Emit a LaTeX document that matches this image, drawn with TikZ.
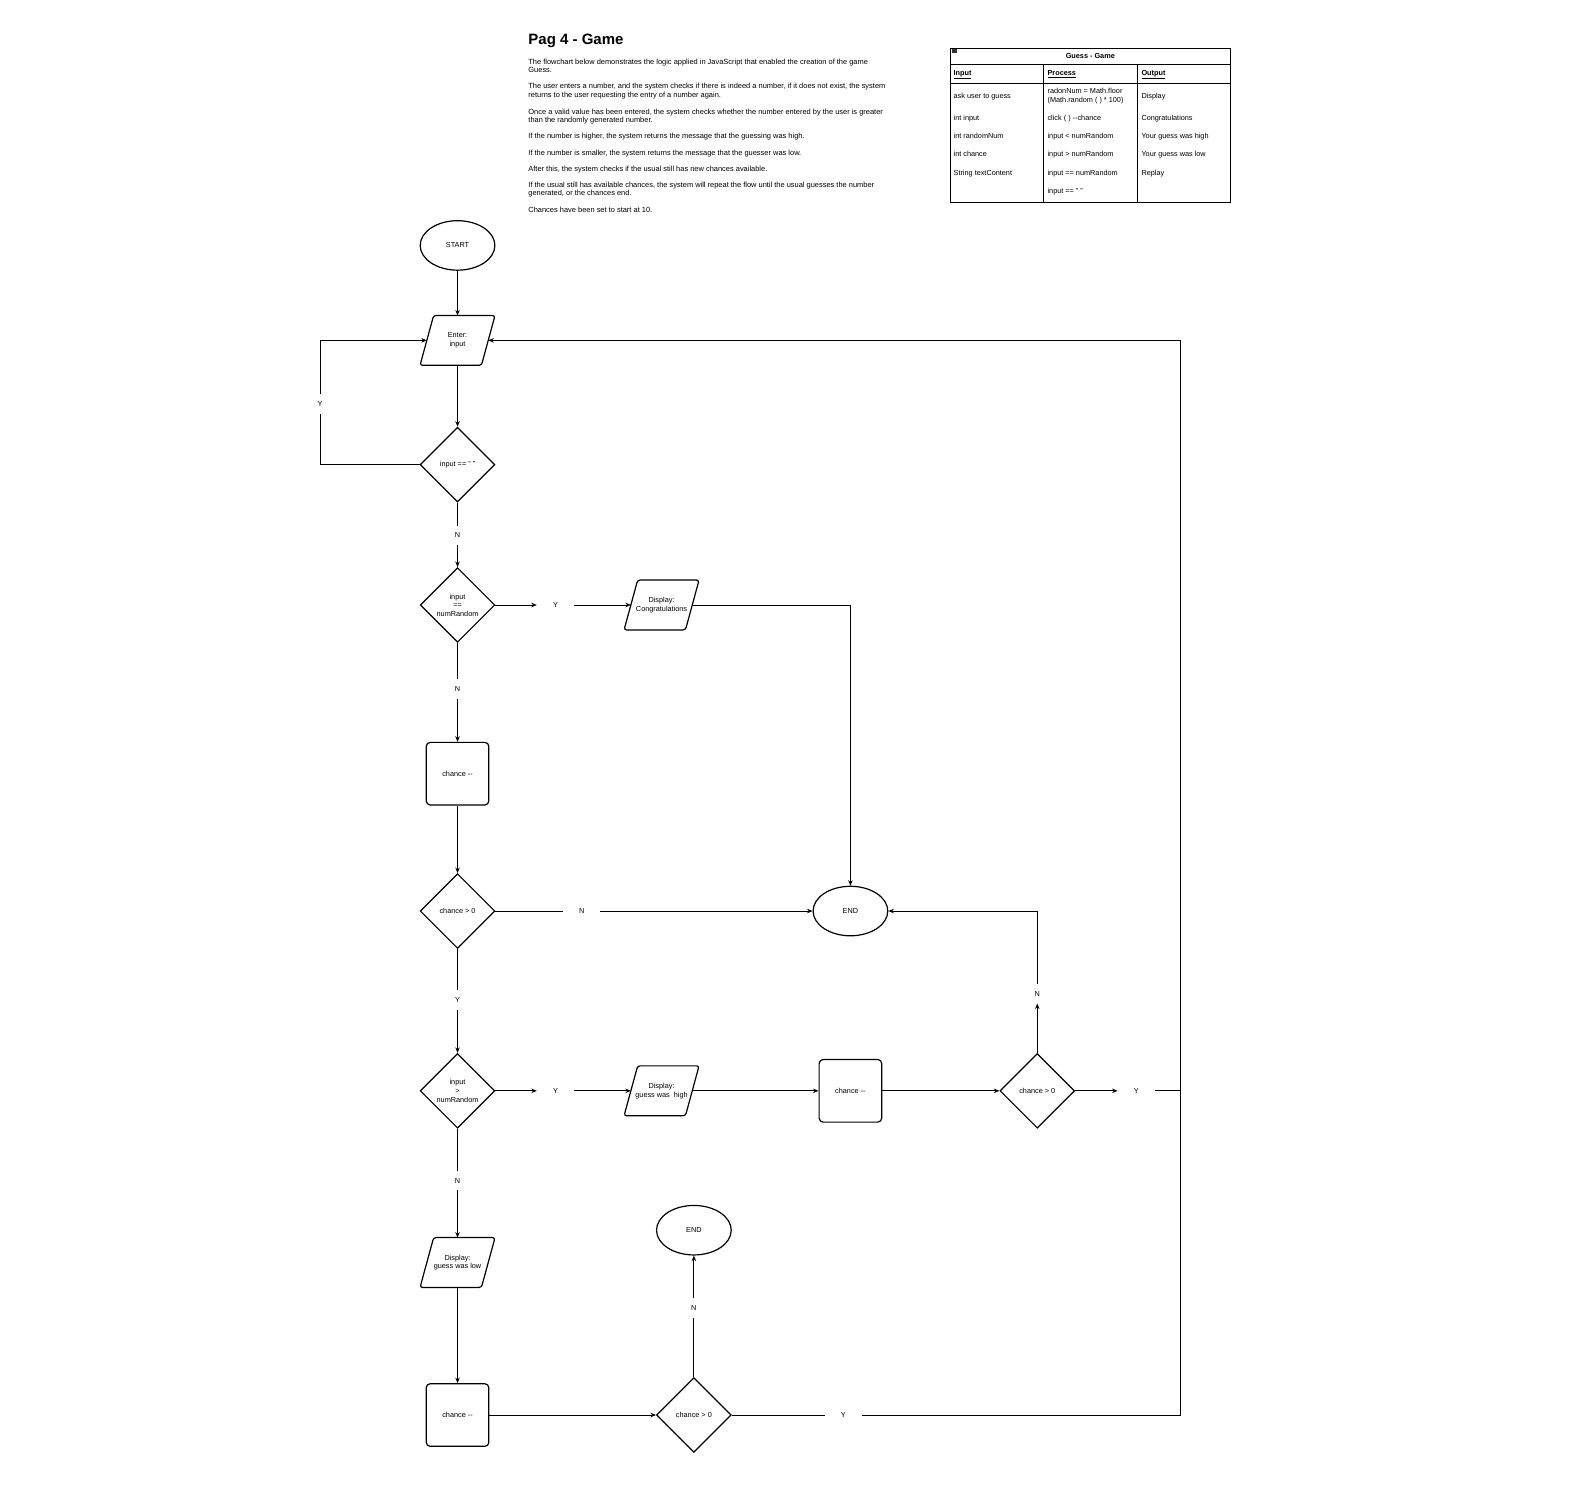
\documentclass[tikz,border=0pt]{standalone}
\usepackage{fontspec}
\setmainfont{Liberation Sans}
\usetikzlibrary{shapes.geometric,arrows.meta}
\newcommand\fnfont{\fontsize{7.3}{8.6}\selectfont}
\newcommand\ptfont{\fontsize{7.45}{8.4}\selectfont}
\newcommand\tbfont{\fontsize{7.3}{8.4}\selectfont}
\tikzset{
 shp/.style={draw, line width=1.2pt, font=\fnfont, align=center, inner sep=0pt},
 dia/.style={shp, diamond, minimum width=74.7pt, minimum height=74.7pt},
 ell/.style={shp, ellipse, minimum width=74.7pt, minimum height=49.5pt},
 rbox/.style={shp, rectangle, rounded corners=4pt, minimum width=62.6pt, minimum height=62.6pt},
 para/.style={font=\fnfont, align=center, inner sep=0pt, minimum width=61pt, minimum height=49.5pt},
 lbl/.style={font=\fnfont, inner sep=0pt, minimum width=37pt, minimum height=19pt},
 conn/.style={line width=0.8pt},
 arr/.style={conn, -{Stealth[length=5.5pt,width=4.5pt]}},
 txt/.style={font=\ptfont, inner sep=0pt, anchor=west, text height=5.4pt, text depth=1.5pt},
 ttxt/.style={txt, font=\tbfont},
 hdr/.style={txt, font=\tbfont\bfseries},
}
\begin{document}
\begin{tikzpicture}[x=1.01pt,y=-1.01pt]
\useasboundingbox (0,0) rectangle (1568.3,1477.2);
% title and description
\node[anchor=base west, inner sep=0pt, font=\fontsize{15}{18}\selectfont\bfseries] (title) at (523,44.5) {Pag 4 - Game};
\node[txt] (p1) at (523,62) {The flowchart below demonstrates the logic applied in JavaScript that enabled the creation of the game};
\node[txt] (p1b) at (523,70) {Guess.};
\node[txt] (p2) at (523,86) {The user enters a number, and the system checks if there is indeed a number, if it does not exist, the system};
\node[txt] (p2b) at (523,95) {returns to the user requesting the entry of a number again.};
\node[txt] (p3) at (523,111) {Once a valid value has been entered, the system checks whether the number entered by the user is greater};
\node[txt] (p3b) at (523,119) {than the randomly generated number.};
\node[txt] (p4) at (523,135) {If the number is higher, the system returns the message that the guessing was high.};
\node[txt] (p5) at (523,152) {If the number is smaller, the system returns the message that the guesser was low.};
\node[txt] (p6) at (523,168) {After this, the system checks if the usual still has new chances available.};
\node[txt] (p7) at (523,184) {If the usual still has available chances, the system will repeat the flow until the usual guesses the number};
\node[txt] (p7b) at (523,192) {generated, or the chances end.};
\node[txt] (p8) at (523,208) {Chances have been set to start at 10.};
% table
\draw[line width=0.8pt] (941,48) rectangle (1218,200);
\draw[line width=0.8pt] (941,64) -- (1218,64);
\draw[line width=0.8pt] (941,83) -- (1218,83);
\draw[line width=0.8pt] (1033,64) -- (1033,200);
\draw[line width=0.8pt] (1126,64) -- (1126,200);
\fill[black!80] (942.5,49) rectangle (947.5,52);
\node[font=\tbfont\bfseries, inner sep=0pt] (tt) at (1079.5,55) {Guess - Game};
\node[hdr] (hin) at (944,73) {\underline{Input}};
\node[hdr] (hpr) at (1037,73) {\underline{Process}};
\node[hdr] (hout) at (1130,73) {\underline{Output}};
\node[ttxt] (i1) at (944,96) {ask user to guess};
\node[ttxt] (i2) at (944,117) {int input};
\node[ttxt] (i3) at (944,135) {int randomNum};
\node[ttxt] (i4) at (944,153.5) {int chance};
\node[ttxt] (i5) at (944,172) {String textContent};
\node[ttxt] (r1a) at (1037,91) {radonNum = Math.floor};
\node[ttxt] (r1b) at (1037,100) {(Math.random ( ) * 100)};
\node[ttxt] (r2) at (1037,117) {click ( ) -{}-chance};
\node[ttxt] (r3) at (1037,135) {input < numRandom};
\node[ttxt] (r4) at (1037,153.5) {input > numRandom};
\node[ttxt] (r5) at (1037,172) {input == numRandom};
\node[ttxt] (r6) at (1037,190) {input == " "};
\node[ttxt] (o1) at (1130,96) {Display};
\node[ttxt] (o2) at (1130,117) {Congratulations};
\node[ttxt] (o3) at (1130,135) {Your guess was high};
\node[ttxt] (o4) at (1130,153.5) {Your guess was low};
\node[ttxt] (o5) at (1130,172) {Replay};
% flowchart nodes
\node[ell] (start) at (453,243) {START};
\node[para] (enter) at (453,337) {Enter:\\input};
\node[dia] (d1) at (453,460) {input == " "};
\node[lbl] (n1) at (453,530) {N};
\node[lbl] (ylp) at (317,400) {Y};
\node[dia] (d2) at (453,599) {input\\==\\numRandom};
\node[lbl] (y2) at (550,599) {Y};
\node[para] (congr) at (655,599) {Display:\\Congratulations};
\node[lbl] (n2) at (453,682) {N};
\node[rbox] (c1) at (453,766) {chance -{}-};
\node[dia] (d3) at (453,902) {chance > 0};
\node[lbl] (n3) at (576,902) {N};
\node[ell] (end1) at (842,902) {END};
\node[lbl] (y3) at (453,990) {Y};
\node[dia] (d4) at (453,1080) {input\\>\\numRandom};
\node[lbl] (y4) at (550,1080) {Y};
\node[para] (high) at (655,1080) {Display:\\guess was\ \ high};
\node[rbox] (c2) at (842,1080) {chance -{}-};
\node[dia] (d5) at (1027,1080) {chance > 0};
\node[lbl] (n5) at (1027,984) {N};
\node[lbl] (y5) at (1125,1080) {Y};
\node[lbl] (n4) at (453,1169) {N};
\node[para] (low) at (453,1250) {Display:\\guess was low};
\node[rbox] (c3) at (453,1401) {chance -{}-};
\node[dia] (d6) at (687,1401) {chance > 0};
\node[lbl] (n6) at (687,1295) {N};
\node[ell] (end2) at (687,1218) {END};
\node[lbl] (y6) at (835,1401) {Y};
\coordinate (rj) at (1169,1080);
\coordinate (rb) at (1169,1401);
\coordinate (rt) at (1169,337);
% parallelogram outlines
\foreach \n in {enter,congr,high,low}
  \draw[line width=1.2pt, rounded corners=2.5pt]
    ([xshift=-6.8pt]\n.south west) -- ([xshift=6.8pt]\n.north west) --
    ([xshift=6.8pt]\n.north east) -- ([xshift=-6.8pt]\n.south east) -- cycle;
% connectors
\draw[arr] (start) -- (enter);
\draw[arr] (enter) -- (d1);
\draw[conn] (d1.west) -| (ylp);
\draw[arr] (ylp) |- (enter.west);
\draw[conn] (d1) -- (n1);
\draw[arr] (n1) -- (d2);
\draw[arr] (d2.east) -- (y2);
\draw[arr] (y2) -- (congr);
\draw[arr] (congr.east) -| (end1.north);
\draw[conn] (d2) -- (n2);
\draw[arr] (n2) -- (c1);
\draw[arr] (c1) -- (d3);
\draw[conn] (d3.east) -- (n3);
\draw[arr] (n3) -- (end1);
\draw[conn] (d3) -- (y3);
\draw[arr] (y3) -- (d4);
\draw[arr] (d4.east) -- (y4);
\draw[arr] (y4) -- (high);
\draw[arr] (high.east) -- (c2);
\draw[arr] (c2) -- (d5);
\draw[arr] (d5.north) -- (n5);
\draw[arr] (n5) |- (end1.east);
\draw[arr] (d5.east) -- (y5);
\draw[conn] (y5) -- (rj);
\draw[conn] (d4) -- (n4);
\draw[arr] (n4) -- (low);
\draw[arr] (low) -- (c3);
\draw[arr] (c3) -- (d6);
\draw[conn] (d6.north) -- (n6);
\draw[arr] (n6) -- (end2);
\draw[conn] (d6.east) -- (y6);
\draw[arr] (y6) -- (rb) -- (rt) -- (enter.east);
\end{tikzpicture}
\end{document}
